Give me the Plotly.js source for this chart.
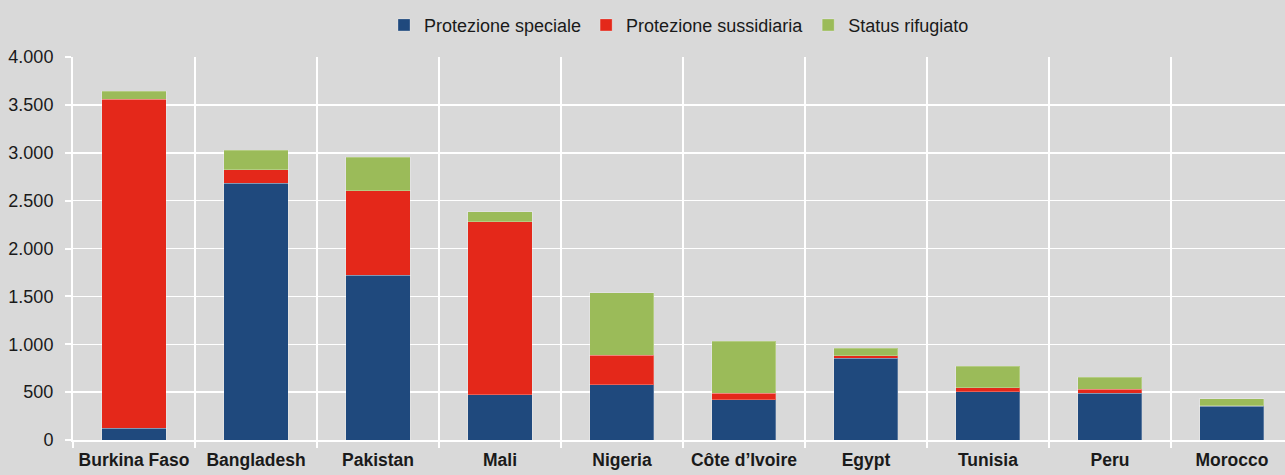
<!DOCTYPE html>
<html>
<head>
<meta charset="utf-8">
<script src="https://cdn.plot.ly/plotly-3.0.1.min.js"></script>
<style>
html,body{margin:0;padding:0;background:#d9d9d9;}
#chart{width:1285px;height:475px;}
</style>
</head>
<body>
<div id="chart"></div>
<script>
const categories = ["Burkina Faso","Bangladesh","Pakistan","Mali","Nigeria","Côte d\u2019Ivoire","Egypt","Tunisia","Peru","Morocco"];
const protezioneSpeciale = [125, 2680, 1720, 475, 575, 420, 855, 505, 490, 355];
const protezioneSussidiaria = [3435, 140, 885, 1805, 310, 70, 25, 40, 38, 3];
const statusRifugiato = [80, 205, 350, 105, 655, 540, 80, 225, 125, 73];

const FONT = '"Liberation Sans", Arial, sans-serif';
const edge = {color: 'rgba(255,255,255,0.25)', width: 1};

const traces = [
  {type:'bar', name:'Protezione speciale', x:categories, y:protezioneSpeciale, marker:{color:'#1f497d', line:edge}},
  {type:'bar', name:'Protezione sussidiaria', x:categories, y:protezioneSussidiaria, marker:{color:'#e4281a', line:edge}},
  {type:'bar', name:'Status rifugiato', x:categories, y:statusRifugiato, marker:{color:'#9bbb59', line:edge}}
];

const layout = {
  width:1285, height:475,
  barmode:'stack', bargap:0.475,
  paper_bgcolor:'#d9d9d9', plot_bgcolor:'#d9d9d9',
  separators:',.',
  font:{family:FONT, size:18, color:'#1a1a1a'},
  margin:{l:73, r:0, t:57, b:35},
  showlegend:true,
  legend:{orientation:'h', x:0.5, xanchor:'center', y:1.083, yanchor:'middle', font:{family:FONT, size:18, color:'#1a1a1a'}, traceorder:'normal', bgcolor:'rgba(0,0,0,0)', itemwidth:30},
  xaxis:{type:'category', range:[-0.5, 9.435], tickson:'boundaries', showgrid:true, gridcolor:'#ffffff', gridwidth:1.5,
    ticks:'outside', ticklen:6, tickcolor:'#ffffff', tickwidth:2, tickangle:0,
    showline:true, linecolor:'#ffffff', linewidth:2,
    tickfont:{family:FONT, size:17.5, color:'#1a1a1a', weight:'bold'}, ticklabelstandoff:3, fixedrange:true},
  yaxis:{range:[0,4000], dtick:500, tickformat:',d', showgrid:true, gridcolor:'#ffffff', gridwidth:1.5,
    ticks:'outside', ticklen:6, tickcolor:'#ffffff', tickwidth:2,
    showline:true, linecolor:'#ffffff', linewidth:2, zeroline:false,
    tickfont:{family:FONT, size:18, color:'#1a1a1a'}, ticklabelstandoff:8}
};

Plotly.newPlot('chart', traces, layout, {staticPlot:true, displayModeBar:false});
</script>
</body>
</html>
